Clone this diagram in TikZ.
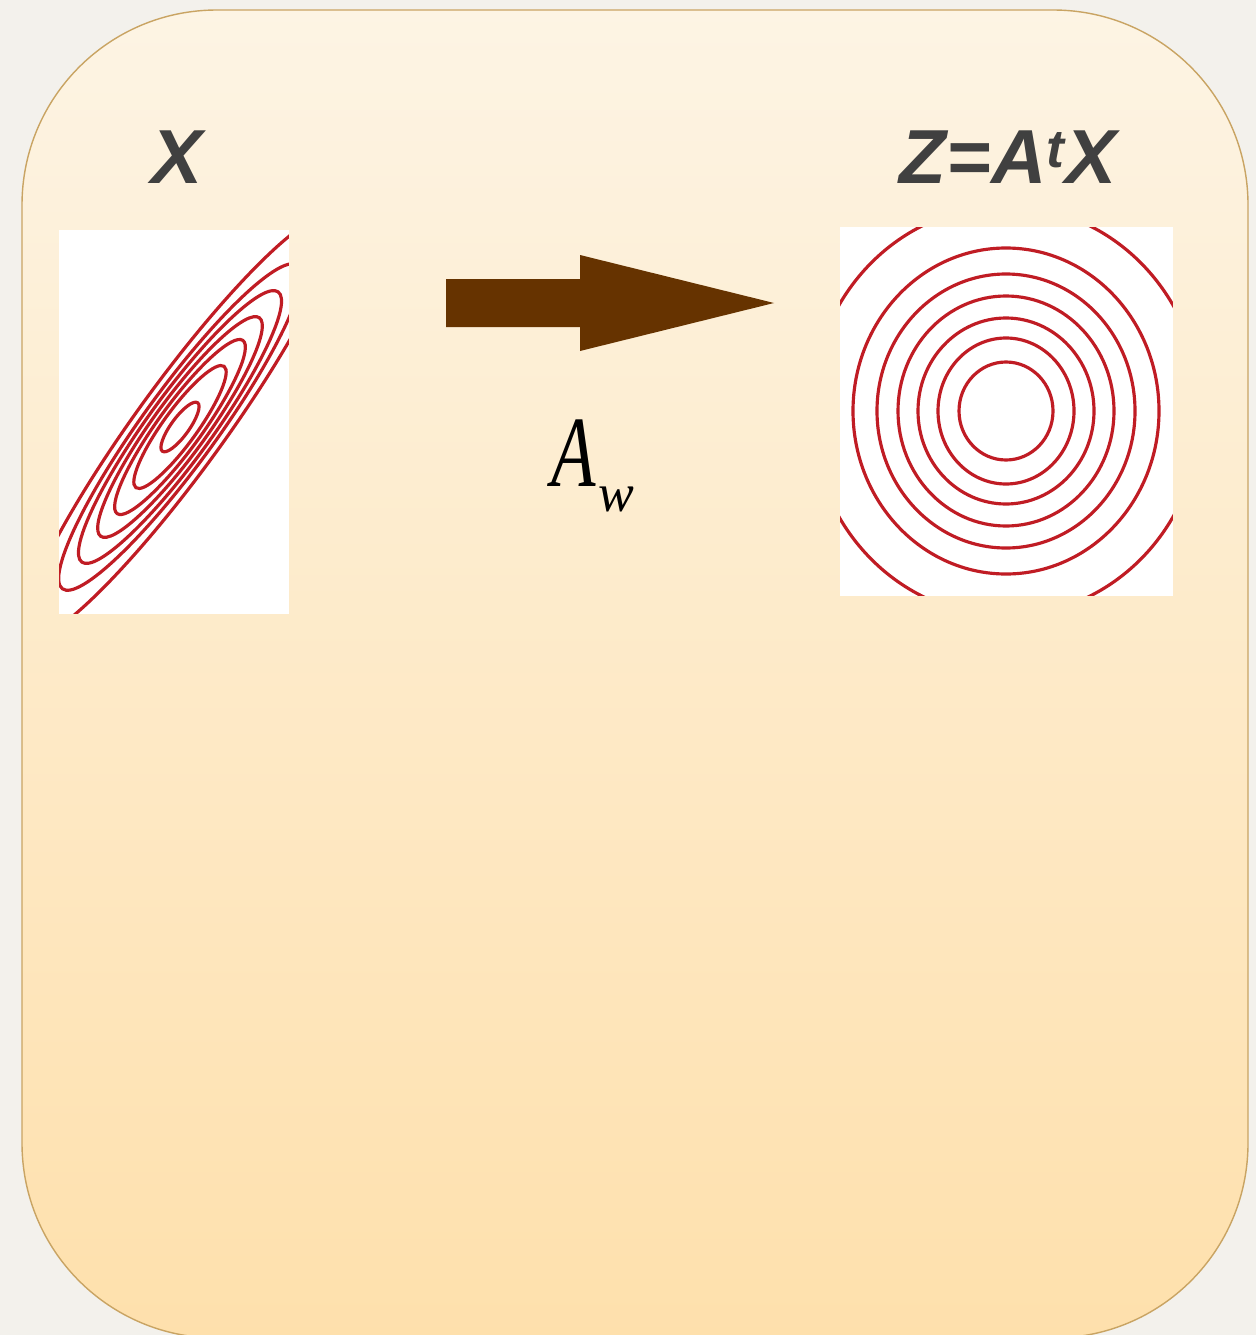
\documentclass[tikz,border=0pt]{standalone}
\usepackage{fontspec}
\setmainfont{Liberation Sans}
\newfontfamily\timesfont{Liberation Serif}
\usepackage{tikz}
\usetikzlibrary{positioning}
\definecolor{paperbg}{RGB}{243,241,236}
\definecolor{panetop}{RGB}{253,244,228}
\definecolor{panebottom}{RGB}{254,224,172}
\definecolor{paneedge}{RGB}{201,164,99}
\definecolor{labelgray}{RGB}{64,64,64}
\definecolor{contourred}{RGB}{192,28,36}
\definecolor{arrowbrown}{RGB}{102,51,0}

\begin{document}
\begin{tikzpicture}[x=0.02cm,y=-0.02cm,
  every node/.style={inner sep=0pt,outer sep=0pt},
  varlabel/.style={font=\fontsize{43.6}{44}\selectfont\bfseries\itshape,text=labelgray},
  plotbox/.style={fill=white,draw=none,anchor=north west},
  contour/.style={draw=contourred,line width=1.8pt}]
  \useasboundingbox (0,0) rectangle (1256,1335);
  \clip (0,0) rectangle (1256,1335);
  \fill[paperbg] (0,0) rectangle (1256,1335);
  \draw[paneedge,line width=0.8pt,top color=panetop,bottom color=panebottom,rounded corners=3.9cm]
    (22,10) rectangle (1248,1338);

  \node[varlabel] (xlab) at (177,157) {X};
  \node[varlabel] (zlab) at (1008,157) {Z=A\textsuperscript{t}X};

  \node[plotbox,minimum width=4.6cm,minimum height=7.68cm] (xplot) at (59,230) {};
  \node[plotbox,minimum width=6.66cm,minimum height=7.38cm] (zplot) at (840,227) {};
  \coordinate (xc) at (180,427);
  \coordinate (zc) at (1006,411);

  \begin{scope}
    \clip (xplot.south west) rectangle (xplot.north east);
    \foreach \a/\b in {30/9,75/17,107/22,135/27,167/32,200/37,260/44}
      \draw[contour,rotate around={54:(xc)}] (xc) ellipse [x radius=\a, y radius=\b];
  \end{scope}
  \begin{scope}
    \clip (zplot.south west) rectangle (zplot.north east);
    \foreach \rx/\ry in {47/49,68/73,88/93,108/115,129/137,153/163,195/205}
      \draw[contour] (zc) ellipse [x radius=\rx, y radius=\ry];
  \end{scope}

  \coordinate (atail) at (446,303);
  \coordinate (atip) at (774,303);
  \fill[arrowbrown] (atail) ++(0,-24) -- ++(134,0) -- ++(0,-24) -- (atip)
    -- ++(-194,48) -- ++(0,-24) -- ++(-134,0) -- cycle;

  \node (awlab) at (593,466)
    {\timesfont\itshape\fontsize{57.5}{58}\selectfont \scalebox{0.72}[1]{A}\kern0.02em\raisebox{-0.25em}{\fontsize{30.5}{31}\selectfont w}};
\end{tikzpicture}
\end{document}
